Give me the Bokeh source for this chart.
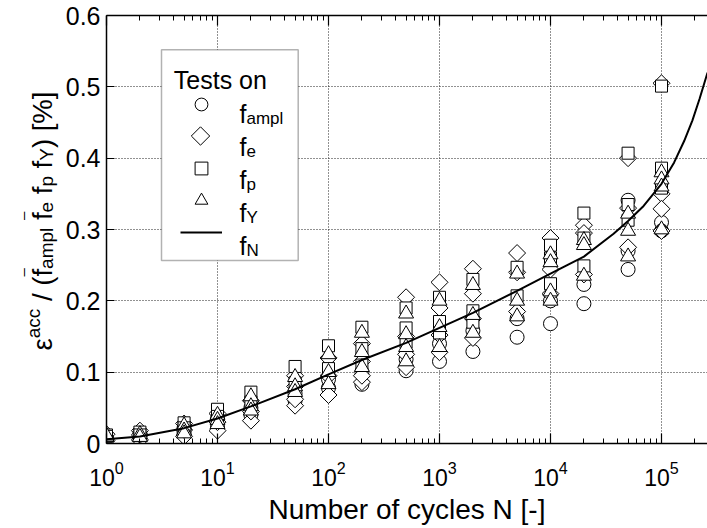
import numpy as np
from bokeh.plotting import figure
from bokeh.layouts import row
from bokeh.models import (LogAxis, FixedTicker, CustomJSTickFormatter, LogTickFormatter,
                          Legend, LegendItem, Label, BoxAnnotation, Range1d, LinearScale)
from bokeh.core.properties import value
from bokeh.embed import file_html
from bokeh.resources import INLINE

FONT = "Liberation Sans"

# ---------------- data ----------------
x_major_ticks = [1, 10, 100, 1000, 10000, 100000]
y_ticks = [0, 0.1, 0.2, 0.3, 0.4, 0.5, 0.6]

# Tests on f_ampl (circles)
ampl_N = [1, 1, 2, 2, 5, 5, 10, 10, 20, 20, 50, 50, 100, 100, 200, 200, 500, 500,
          1000, 1000, 2000, 2000, 5000, 5000, 1e4, 1e4, 2e4, 2e4, 5e4, 5e4, 5e4, 1e5, 1e5]
ampl_eps = [0.008, 0.011, 0.010, 0.014, 0.015, 0.022, 0.025, 0.035, 0.040, 0.050, 0.060, 0.070,
            0.078, 0.090, 0.083, 0.100, 0.102, 0.118, 0.115, 0.140, 0.129, 0.158, 0.149, 0.175,
            0.168, 0.200, 0.196, 0.223, 0.244, 0.270, 0.341, 0.310, 0.298]

# Tests on f_e (diamonds)
e_N = [1, 1, 2, 2, 2, 5, 5, 5, 10, 10, 10, 20, 20, 20, 50, 50, 50, 50, 100, 100, 100,
       200, 200, 200, 200, 500, 500, 500, 500, 1000, 1000, 1000, 1000, 2000, 2000, 2000, 2000,
       5000, 5000, 5000, 1e4, 1e4, 1e4, 2e4, 2e4, 2e4, 5e4, 5e4, 5e4, 1e5, 1e5, 1e5, 1e5]
e_eps = [0.004, 0.013, 0.005, 0.018, 0.012, 0.010, 0.028, 0.019, 0.018, 0.042, 0.030,
         0.032, 0.060, 0.045, 0.053, 0.095, 0.080, 0.062, 0.068, 0.120, 0.095,
         0.086, 0.140, 0.115, 0.095, 0.107, 0.205, 0.150, 0.125, 0.128, 0.226, 0.190, 0.152,
         0.148, 0.245, 0.210, 0.175, 0.185, 0.267, 0.240, 0.210, 0.288, 0.244,
         0.237, 0.306, 0.295, 0.275, 0.400, 0.330, 0.298, 0.505, 0.350, 0.329]

# Tests on f_p (squares)
p_N = [1, 1, 2, 2, 5, 5, 10, 10, 20, 20, 50, 50, 100, 100, 200, 200, 200, 500, 500, 500,
       1000, 1000, 1000, 2000, 2000, 2000, 5000, 5000, 1e4, 1e4, 1e4, 2e4, 2e4, 2e4,
       5e4, 5e4, 5e4, 1e5, 1e5, 1e5]
p_eps = [0.012, 0.010, 0.016, 0.012, 0.029, 0.022, 0.048, 0.038, 0.072, 0.058, 0.108, 0.085,
         0.137, 0.105, 0.163, 0.133, 0.110, 0.190, 0.162, 0.142, 0.205, 0.171, 0.155,
         0.230, 0.186, 0.170, 0.247, 0.207, 0.278, 0.260, 0.224, 0.323, 0.288, 0.249,
         0.407, 0.335, 0.313, 0.501, 0.386, 0.358]

# Tests on f_Y (triangles)
Y_N = [1, 1, 2, 2, 5, 5, 5, 10, 10, 10, 20, 20, 20, 50, 50, 50, 100, 100, 100, 200, 200, 200,
       500, 500, 500, 500, 1000, 1000, 1000, 2000, 2000, 2000, 5000, 5000, 5000,
       1e4, 1e4, 1e4, 1e4, 2e4, 2e4, 2e4, 5e4, 5e4, 5e4, 1e5, 1e5, 1e5, 1e5]
Y_eps = [0.009, 0.011, 0.013, 0.009, 0.025, 0.018, 0.014, 0.040, 0.033, 0.027, 0.066, 0.052, 0.046,
         0.093, 0.080, 0.072, 0.125, 0.100, 0.083, 0.155, 0.128, 0.107,
         0.182, 0.153, 0.135, 0.115, 0.200, 0.163, 0.135, 0.222, 0.180, 0.155, 0.238, 0.200, 0.178,
         0.265, 0.254, 0.213, 0.200, 0.285, 0.278, 0.235, 0.322, 0.298, 0.262,
         0.380, 0.370, 0.360, 0.300]

# f_N curve
curve_N = [1, 2, 5, 10, 20, 50, 100, 200, 500, 1e3, 2e3, 5e3, 1e4, 2e4, 3.7e4, 5e4,
           6.9e4, 1e5, 1.3e5, 1.6e5, 1.9e5, 2.2e5, 2.6e5]
curve_eps = [0.006, 0.0098, 0.0215, 0.035, 0.052, 0.076, 0.097, 0.117, 0.141, 0.162, 0.183,
             0.214, 0.238, 0.262, 0.294, 0.312, 0.333, 0.364, 0.394, 0.424, 0.453, 0.483, 0.52]

# ---------------- layout constants (pixels) ----------------
W, H = 707, 528
FL, FT, FB = 106, 15, 85
FW, FH = W - FL, H - FT - FB

# ---------------- main figure ----------------
p = figure(width=W, height=H, x_axis_type="log",
           x_range=Range1d(1, 10 ** (FW / 111.0)), y_range=Range1d(0, 0.6),
           output_backend="svg", toolbar_location=None,
           min_border_left=FL, min_border_right=0, min_border_top=FT, min_border_bottom=FB)
p.outline_line_color = None
p.background_fill_color = "white"
p.border_fill_alpha = 0          # let the label strip underneath show through
p.styles = {"margin-left": f"-{FL}px"}
p.extra_x_ranges = {"px": Range1d(0, FW)}
p.extra_y_ranges = {"px": Range1d(0, FH)}
p.extra_x_scales = {"px": LinearScale()}
p.extra_y_scales = {"px": LinearScale()}

minor = [m * 10 ** k for k in range(6) for m in range(2, 10)]

xa = p.xaxis[0]
xa.ticker = FixedTicker(ticks=x_major_ticks, minor_ticks=minor)
xa.formatter = LogTickFormatter()
xa.major_tick_in = 10
xa.major_tick_out = 0
xa.minor_tick_in = 5
xa.minor_tick_out = 0
xa.axis_line_width = 1.5
xa.major_tick_line_width = 1.2
xa.major_label_text_font = FONT
xa.major_label_text_font_size = "23px"
xa.major_label_text_color = "black"
xa.major_label_standoff = 17
xa.axis_label = "Number of cycles N [-]"
xa.axis_label_text_font = FONT
xa.axis_label_text_font_size = "28px"
xa.axis_label_text_font_style = "normal"
xa.axis_label_text_color = "black"
xa.axis_label_standoff = 5

top = LogAxis(ticker=FixedTicker(ticks=x_major_ticks, minor_ticks=minor),
              formatter=CustomJSTickFormatter(code="return ''"))
top.major_tick_in = 10
top.major_tick_out = 0
top.minor_tick_in = 5
top.minor_tick_out = 0
top.axis_line_width = 1.5
top.major_tick_line_width = 1.2
top.major_label_text_font_size = "1px"
top.major_label_standoff = 0
p.add_layout(top, "above")

ya = p.yaxis[0]
ya.ticker = FixedTicker(ticks=y_ticks, minor_ticks=[])
ya.formatter = CustomJSTickFormatter(code="return tick == 0 ? '0' : tick.toFixed(1)")
ya.major_tick_in = 8
ya.major_tick_out = 0
ya.minor_tick_in = 0
ya.minor_tick_out = 0
ya.axis_line_width = 1.5
ya.major_label_text_font = FONT
ya.major_label_text_font_size = "25px"
ya.major_label_text_color = "black"
ya.major_label_standoff = 6

for g in (p.xgrid[0], p.ygrid[0]):
    g.grid_line_color = "#222222"
    g.grid_line_dash = "1 2"
    g.grid_line_width = 1

mk = dict(fill_color="white", line_color="black", line_width=1)
r_c = p.scatter(ampl_N, ampl_eps, marker="circle", size=14, **mk)
r_d = p.scatter(e_N, e_eps, marker="square", angle=np.pi / 4, size=12, **mk)
r_s = p.scatter(p_N, p_eps, marker="square", size=12, **mk)
r_t = p.scatter(Y_N, Y_eps, marker="triangle", size=15, **mk)
r_l = p.line(curve_N, curve_eps, line_color="black", line_width=2)

# ---------------- legend (box + glyphs + texts), frame pixels ----------------
box = BoxAnnotation(left=55, right=191.7, top=393.7, bottom=183,
                    left_units="screen", right_units="screen",
                    top_units="screen", bottom_units="screen",
                    fill_color="white", fill_alpha=1.0,
                    line_color="black", line_width=1.5)
p.add_layout(box)

# Bokeh legends do not rotate markers, so the f_e slot gets an invisible stand-in
# and its diamond symbol is drawn on a pixel scale over the slot.
r_e_stub = p.scatter(x=[], y=[], marker="square", fill_alpha=0, line_alpha=0)
legend = Legend(items=[LegendItem(label=value(" "), renderers=[r])
                       for r in (r_c, r_e_stub, r_s, r_t, r_l)],
                location=(74, 195.5), glyph_width=42, glyph_height=32, spacing=0,
                padding=0, margin=0, label_standoff=0, label_text_font_size="1px",
                label_height=32, label_width=0, border_line_color=None,
                background_fill_alpha=0)
p.add_layout(legend)
p.scatter(x=[94], y=[FH - 120.5], x_range_name="px", y_range_name="px",
          marker="square", angle=np.pi / 4, size=13, level="overlay", **mk)

p.add_layout(Label(x=67.3, y=364, x_units="screen", y_units="screen", text="Tests on",
                   text_font=FONT, text_font_size="25px", text_color="black",
                   text_baseline="alphabetic"))
subs = ["ampl", "e", "p", "Y", "N"]
for i, s in enumerate(subs):
    base = 443 - (113.2 + 33 * i)
    p.add_layout(Label(x=133, y=base, x_units="screen", y_units="screen", text="f",
                       text_font=FONT, text_font_size="25px", text_color="black",
                       text_baseline="alphabetic"))
    p.add_layout(Label(x=140, y=base - 4.5, x_units="screen", y_units="screen", text=s,
                       text_font=FONT, text_font_size="17px", text_color="black",
                       text_baseline="alphabetic"))

# ---------------- strip (under the plot's left border) with the rotated y label ----------------
# The row aligns this strip's frame with the main frame (rows 15..443 of the page).
lf = figure(width=FL, height=H, output_backend="svg", toolbar_location=None,
            x_range=Range1d(0, FL), y_range=Range1d(0, H),
            x_axis_location=None, y_axis_location=None, min_border=0)
lf.outline_line_color = None
lf.grid.visible = False
lf.background_fill_color = "white"
lf.border_fill_color = "white"

EM = {"ε": 0.446, "a": 0.556, "c": 0.5, " ": 0.278, "/": 0.278, "(": 0.333, ")": 0.333,
      "f": 0.278, "m": 0.833, "p": 0.556, "l": 0.222, "e": 0.556, "Y": 0.667,
      "[": 0.278, "]": 0.278, "%": 0.889}
MAIN, SCRIPT = 27.5, 19
SUP, SUB = 8.5, -4.5
# (text, size, baseline shift, overbar); a bare " " is an explicit gap
pieces = [("ε", MAIN, 0, False), ("acc", SCRIPT, SUP, False), (" ", MAIN, 0, False),
          ("/", MAIN, 0, False), (" ", MAIN, 0, False), ("(", MAIN, 0, False),
          ("f", MAIN, 0, True), ("ampl", SCRIPT, SUB, False), (" ", MAIN, 0, False),
          ("f", MAIN, 0, True), ("e", SCRIPT, SUB, False), (" ", MAIN, 0, False),
          ("f", MAIN, 0, False), ("p", SCRIPT, SUB, False), (" ", MAIN, 0, False),
          ("f", MAIN, 0, False), ("Y", SCRIPT, SUB, False), (")", MAIN, 0, False),
          (" ", MAIN, 0, False), ("[%]", MAIN, 0, False)]
bx = 41.7
pos = (H - FB) - 350.0      # label starts at page row 350, measured up from frame bottom
for txt, sz, shift, bar in pieces:
    adv = sum(EM[c] for c in txt) * sz
    if txt != " ":
        lf.add_layout(Label(x=bx - shift, y=pos, x_units="screen", y_units="screen", text=txt,
                            angle=np.pi / 2, text_font=FONT, text_font_size=f"{sz}px",
                            text_color="black", text_baseline="alphabetic", text_align="left"))
    if bar:
        lf.add_layout(Label(x=bx - 20, y=pos + adv / 2 + 0.5,
                            x_units="screen", y_units="screen", text="\u2013",
                            angle=np.pi / 2, text_font=FONT, text_font_size="15px",
                            text_color="black", text_baseline="alphabetic", text_align="center"))
    pos += adv

layout = row(lf, p, spacing=0)
open("out.html", "w").write(file_html(layout, INLINE))
